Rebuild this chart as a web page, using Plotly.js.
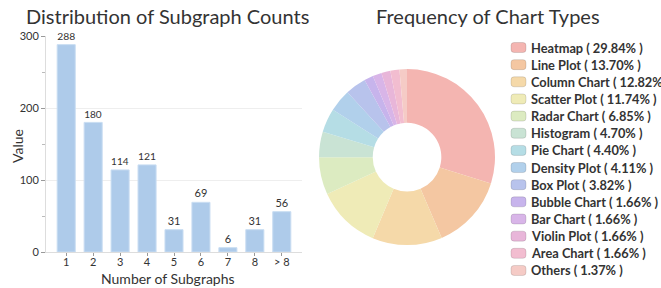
<!DOCTYPE html>
<html><head><meta charset="utf-8">
<script src="https://cdn.plot.ly/plotly-3.0.1.min.js"></script>
<style>html,body{margin:0;padding:0;background:#fff}#chart{width:661px;height:288px}</style>
</head><body><div id="chart"></div>
<script>
const subgraphCats = ["1","2","3","4","5","6","7","8","> 8"];
const subgraphCounts = [288,180,114,121,31,69,6,31,56];
const chartTypes = ["Heatmap","Line Plot","Column Chart","Scatter Plot","Radar Chart","Histogram","Pie Chart","Density Plot","Box Plot","Bubble Chart","Bar Chart","Violin Plot","Area Chart","Others"];
const chartShares = [29.84,13.70,12.82,11.74,6.85,4.70,4.40,4.11,3.82,1.66,1.66,1.66,1.66,1.37];
const sliceColors = ["#f4b5b1","#f4c7a2","#f5d9a9","#efebb7","#dcebc1","#c9e3d4","#b5dde5","#b1d0eb","#b8c3ec","#c7b4ec","#d8b5e8","#e8b6d9","#f2bdd0","#f5cbc6"];

const W = 661, H = 288;
const font = "Lato, 'Open Sans', sans-serif";
const legendLabels = chartTypes.map((c,i)=>c+" ( "+chartShares[i].toFixed(2)+"% )");

const bar = {
  type: "bar", x: subgraphCats, y: subgraphCounts,
  text: subgraphCounts.map(String), textposition: "outside", cliponaxis: false,
  textfont: {family: font, size: 11, color: "#333"},
  marker: {color: "#aecbea", line: {color: "#c9ddf2", width: 1}},
  width: 0.67, xaxis: "x", yaxis: "y", showlegend: false, hoverinfo: "x+y"
};
const pie = {
  type: "pie", labels: legendLabels, values: chartShares,
  sort: false, direction: "clockwise", rotation: 0, hole: 0.39,
  textinfo: "none", marker: {colors: sliceColors, line: {color: "#ffffff", width: 0}},
  domain: {x: [0.4826, 0.7489], y: [0.149, 0.760]}, showlegend: false
};

// custom legend (compact rows)
const legTop = 47.5, legStep = 17.15, swX0 = 511, swX1 = 526, swH = 10, txtX = 529;
function px(x){return x/W;} function py(y){return 1 - y/H;}
function roundRect(x0,y0,x1,y1,r){
  const p = (x,y)=>px(x).toFixed(5)+","+py(y).toFixed(5);
  return "M"+p(x0+r,y0)+" L"+p(x1-r,y0)+" Q"+p(x1,y0)+" "+p(x1,y0+r)+" L"+p(x1,y1-r)+" Q"+p(x1,y1)+" "+p(x1-r,y1)+
         " L"+p(x0+r,y1)+" Q"+p(x0,y1)+" "+p(x0,y1-r)+" L"+p(x0,y0+r)+" Q"+p(x0,y0)+" "+p(x0+r,y0)+" Z";
}
const shapes = [], annotations = [];
legendLabels.forEach((lab,i)=>{
  const cy = legTop + i*legStep;
  shapes.push({type:"path", xref:"paper", yref:"paper", path: roundRect(swX0, cy-swH/2, swX1, cy+swH/2, 3),
    fillcolor: sliceColors[i], line:{color:"rgba(0,0,0,0.12)", width:1}});
  annotations.push({text: "<b>"+lab+"</b>", xref:"paper", yref:"paper", x: px(txtX), y: py(cy), xanchor:"left", yanchor:"middle",
    showarrow:false, font:{size:12.8, color:"#333", family:font}});
});
annotations.push(
  {text: "Distribution of Subgraph Counts", xref: "paper", yref: "paper", x: 167/W, y: py(16),
   xanchor: "center", yanchor: "middle", showarrow: false, font: {size: 20, color: "#333", family: font}},
  {text: "Frequency of Chart Types", xref: "paper", yref: "paper", x: 488/W, y: py(16),
   xanchor: "center", yanchor: "middle", showarrow: false, font: {size: 20, color: "#333", family: font}},
  {text: "Value", xref: "paper", yref: "paper", x: px(17), y: py(146), textangle: -90,
   xanchor: "center", yanchor: "middle", showarrow: false, font: {size: 14, color: "#333", family: font}},
  {text: "Number of Subgraphs", xref: "paper", yref: "paper", x: px(168), y: py(278),
   xanchor: "center", yanchor: "middle", showarrow: false, font: {size: 14, color: "#333", family: font}}
);

const layout = {
  width: W, height: H, margin: {l:0, r:0, t:0, b:0},
  paper_bgcolor: "#fff", plot_bgcolor: "#fff",
  font: {family: font, color: "#333"},
  showlegend: false,
  xaxis: {domain: [46/W, 302/W], range: [-0.75, 8.75], type: "category",
    showline: true, linecolor: "#ddd", linewidth: 1, ticks: "outside", ticklen: 3, tickcolor: "#999",
    ticklabelstandoff: -3,
    tickfont: {size: 11, color: "#333", family: font}, showgrid: false, zeroline: false},
  yaxis: {domain: [1-252/H, 1-36/H], range: [0, 300], tickvals: [0,100,200,300],
    showline: true, linecolor: "#ddd", linewidth: 1, ticks: "outside", ticklen: 4, tickcolor: "#999",
    minor: {tickvals: [50,150,250], ticks: "outside", ticklen: 3, tickcolor: "#bbb"},
    showgrid: true, gridcolor: "#eee", zeroline: false,
    tickfont: {size: 11, color: "#333", family: font}},
  shapes: shapes,
  annotations: annotations
};
Plotly.newPlot("chart", [bar, pie], layout, {displayModeBar: false, staticPlot: true});
</script></body></html>
